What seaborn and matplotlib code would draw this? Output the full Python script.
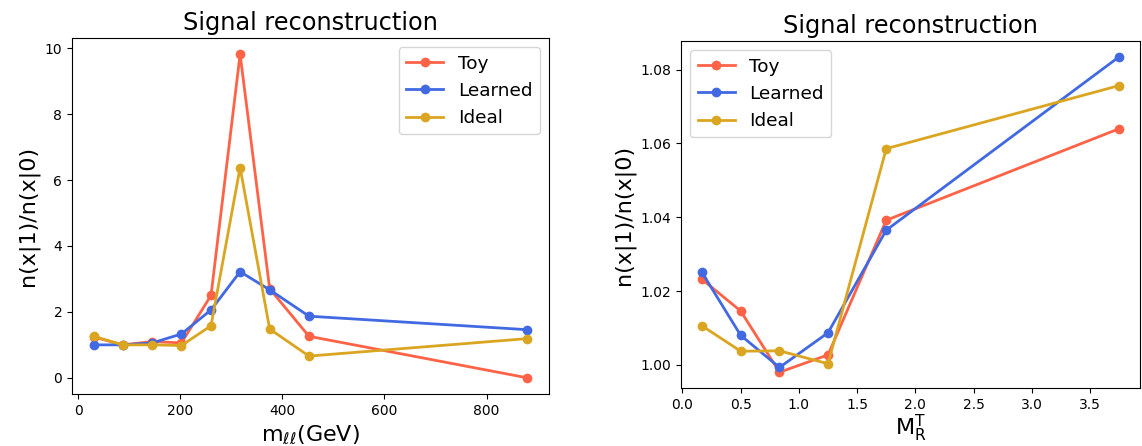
import numpy as np
import pandas as pd
import matplotlib
matplotlib.use("Agg")
import matplotlib.pyplot as plt
import seaborn as sns

series_names = ["Toy", "Learned", "Ideal"]
colors = {"Toy": "#FF6347", "Learned": "#4169E1", "Ideal": "#DAA520"}

# Left panel: m_ll bins (GeV)
mll = [30, 87, 145, 202, 260, 317, 375, 452, 880]
mll_toy = [1.24, 1.00, 1.10, 1.06, 2.50, 9.82, 2.70, 1.26, 0.00]
mll_learned = [1.00, 1.00, 1.06, 1.33, 2.06, 3.22, 2.67, 1.87, 1.46]
mll_ideal = [1.26, 1.00, 1.00, 0.98, 1.58, 6.38, 1.48, 0.66, 1.19]

# Right panel: M_R^T bins
mrt = [1/6, 0.5, 5/6, 1.25, 1.75, 3.75]
mrt_toy = [1.0232, 1.0146, 0.9980, 1.0027, 1.0392, 1.0640]
mrt_learned = [1.0251, 1.0080, 0.9993, 1.0087, 1.0365, 1.0835]
mrt_ideal = [1.0106, 1.0037, 1.0038, 1.0003, 1.0586, 1.0757]


def long_df(x, ys):
    rows = []
    for name, y in zip(series_names, ys):
        for xi, yi in zip(x, y):
            rows.append({"x": xi, "y": yi, "series": name})
    return pd.DataFrame(rows)


df_left = long_df(mll, [mll_toy, mll_learned, mll_ideal])
df_right = long_df(mrt, [mrt_toy, mrt_learned, mrt_ideal])

plt.rcParams["font.family"] = ["DejaVu Sans"]

fig = plt.figure(figsize=(11.42, 4.46), dpi=100)
W, H = 1142, 446
ax1 = fig.add_axes([72 / W, 1 - 394 / H, (549 - 72) / W, (394 - 38) / H])
ax2 = fig.add_axes([681 / W, 1 - 388 / H, (1140 - 681) / W, (388 - 41) / H])

for ax, df, xlabel, loc, pad in [
    (ax1, df_left, r"m$_{\ell\ell}$(GeV)", "upper right", 4.0),
    (ax2, df_right, r"M$_{\mathrm{R}}^{\mathrm{T}}$", "upper left", 1.0),
]:
    sns.lineplot(data=df, x="x", y="y", hue="series", palette=colors,
                 hue_order=series_names, marker="o", markersize=7,
                 markeredgewidth=0, linewidth=2, sort=False, ax=ax)
    ax.set_title("Signal reconstruction", fontsize=17.3)
    ax.set_xlabel(xlabel, fontsize=16, labelpad=pad)
    ax.set_ylabel("n(x|1)/n(x|0)", fontsize=16)
    ax.tick_params(labelsize=10)
    ax.legend(loc=loc, fontsize=13.3, title=None)

ax1.set_xticks([0, 200, 400, 600, 800])
ax1.set_yticks([0, 2, 4, 6, 8, 10])
ax2.set_xticks(np.arange(0, 4.0, 0.5))
ax2.set_yticks([1.00, 1.02, 1.04, 1.06, 1.08])

fig.savefig("out.png", dpi=100)
